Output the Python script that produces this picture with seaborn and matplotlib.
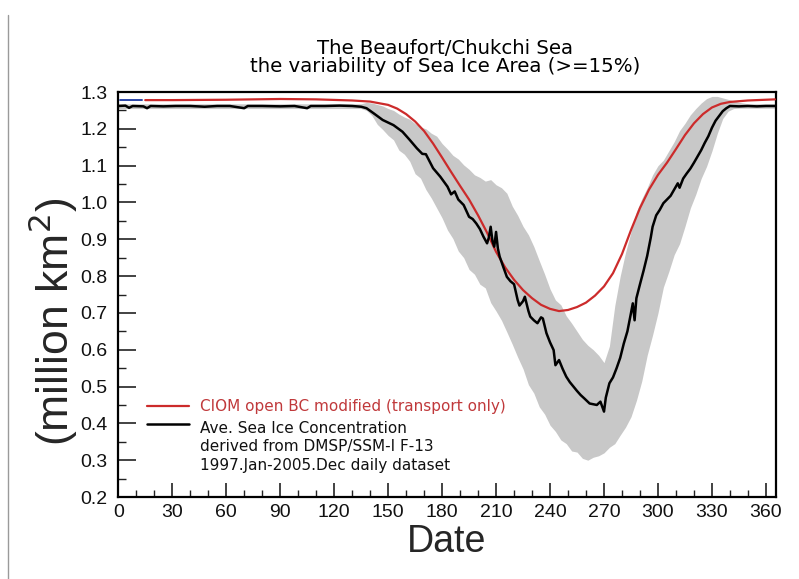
import matplotlib
matplotlib.use("Agg")
import matplotlib.pyplot as plt
from matplotlib.lines import Line2D
from matplotlib.ticker import MultipleLocator, FormatStrFormatter
import seaborn as sns

# ---- data -------------------------------------------------------------
# short initial segment of the model run
init_day = [1, 13]
init_area = [1.278, 1.278]

# CIOM model, open BC modified (transport only)
model_day = [15, 30, 60, 90, 110, 130, 140, 150, 155, 160, 165, 170, 175, 180,
             185, 190, 195, 200, 205, 210, 215, 220, 225, 230, 235, 240, 245,
             250, 255, 260, 265, 270, 275, 280, 285, 290, 295, 300, 305, 310,
             315, 320, 325, 330, 335, 340, 350, 365]
model_area = [1.278, 1.278, 1.279, 1.281, 1.280, 1.277, 1.274, 1.265, 1.255,
              1.240, 1.220, 1.194, 1.160, 1.122, 1.083, 1.045, 1.008, 0.965,
              0.918, 0.866, 0.824, 0.790, 0.762, 0.740, 0.722, 0.711, 0.705,
              0.708, 0.716, 0.728, 0.747, 0.772, 0.808, 0.860, 0.925, 0.985,
              1.035, 1.075, 1.108, 1.145, 1.183, 1.215, 1.240, 1.258, 1.268,
              1.273, 1.277, 1.280]

# averaged observed sea ice area (DMSP/SSM-I F-13, 1997-2005)
obs_day = [0, 4, 6, 8, 14, 16, 18, 25, 32, 40, 48, 55, 62, 70, 72, 80, 90, 98,
           105, 107, 115, 123, 130, 135, 138, 142, 147, 153, 158, 162, 166,
           169, 171, 175, 179, 183, 185, 187, 189, 192, 195, 197, 199, 201,
           203, 205, 206, 207, 208, 209, 210, 211, 212, 214, 216, 218, 220,
           222, 223, 225, 226, 228, 229, 231, 233, 235, 236, 238, 240, 242,
           243, 245, 247, 249, 251, 253, 255, 257, 259, 262, 264, 266, 268,
           270, 271, 273, 275, 277, 279, 281, 283, 285, 286, 287, 288, 290,
           292, 294, 296, 297, 299, 301, 303, 305, 307, 309, 311, 312, 314,
           316, 318, 320, 322, 324, 326, 328, 330, 332, 334, 336, 338, 340,
           345, 350, 355, 360, 365]
obs_area = [1.262, 1.263, 1.257, 1.262, 1.261, 1.256, 1.262, 1.261, 1.262,
            1.262, 1.260, 1.262, 1.262, 1.256, 1.262, 1.262, 1.261, 1.262,
            1.256, 1.262, 1.262, 1.263, 1.262, 1.260, 1.256, 1.242, 1.224,
            1.210, 1.192, 1.170, 1.147, 1.132, 1.131, 1.093, 1.070, 1.043,
            1.022, 1.030, 1.008, 0.993, 0.961, 0.955, 0.943, 0.928, 0.907,
            0.889, 0.905, 0.934, 0.895, 0.880, 0.920, 0.875, 0.853, 0.825,
            0.798, 0.786, 0.778, 0.735, 0.720, 0.732, 0.744, 0.705, 0.690,
            0.680, 0.672, 0.688, 0.685, 0.645, 0.620, 0.599, 0.558, 0.572,
            0.548, 0.527, 0.512, 0.500, 0.488, 0.477, 0.468, 0.454, 0.452,
            0.450, 0.459, 0.432, 0.470, 0.509, 0.525, 0.550, 0.578, 0.617,
            0.650, 0.700, 0.726, 0.680, 0.740, 0.778, 0.815, 0.855, 0.905,
            0.934, 0.965, 0.980, 0.998, 1.008, 1.018, 1.035, 1.052, 1.040,
            1.065, 1.079, 1.092, 1.108, 1.125, 1.142, 1.162, 1.180, 1.203,
            1.222, 1.235, 1.248, 1.256, 1.262, 1.261, 1.262, 1.261, 1.262,
            1.262]

# daily spread of the observations (min / max over the years)
band_day = [0, 135, 138, 141, 144, 147, 150, 153, 156, 159, 162, 165, 168,
            171, 174, 177, 180, 183, 186, 189, 192, 195, 198, 201, 204, 207,
            210, 213, 216, 219, 222, 225, 228, 231, 234, 237, 240, 243, 246,
            249, 252, 255, 258, 261, 264, 267, 270, 273, 276, 279, 282, 285,
            288, 291, 294, 297, 300, 303, 306, 309, 312, 315, 318, 321, 324,
            327, 330, 333, 336, 339, 342, 345, 350, 365]
band_low = [1.255, 1.255, 1.250, 1.236, 1.212, 1.198, 1.182, 1.170, 1.142,
            1.131, 1.112, 1.078, 1.066, 1.035, 1.012, 0.985, 0.958, 0.925,
            0.902, 0.868, 0.850, 0.818, 0.805, 0.778, 0.768, 0.728, 0.705,
            0.680, 0.648, 0.615, 0.580, 0.548, 0.505, 0.482, 0.445, 0.425,
            0.395, 0.378, 0.355, 0.345, 0.325, 0.322, 0.305, 0.300, 0.308,
            0.312, 0.320, 0.335, 0.345, 0.368, 0.390, 0.418, 0.462, 0.515,
            0.585, 0.640, 0.700, 0.770, 0.812, 0.858, 0.888, 0.935, 0.985,
            1.022, 1.065, 1.098, 1.140, 1.188, 1.228, 1.248, 1.255, 1.256,
            1.256, 1.256]
band_high = [1.268, 1.268, 1.272, 1.270, 1.266, 1.262, 1.255, 1.250, 1.240,
             1.232, 1.226, 1.214, 1.205, 1.200, 1.188, 1.180, 1.160, 1.145,
             1.128, 1.118, 1.102, 1.090, 1.075, 1.068, 1.058, 1.062, 1.048,
             1.040, 1.025, 0.990, 0.965, 0.935, 0.912, 0.880, 0.842, 0.805,
             0.765, 0.735, 0.722, 0.692, 0.672, 0.650, 0.628, 0.612, 0.600,
             0.585, 0.565, 0.610, 0.720, 0.800, 0.865, 0.920, 0.975, 1.010,
             1.040, 1.075, 1.100, 1.115, 1.140, 1.165, 1.195, 1.215, 1.238,
             1.255, 1.270, 1.282, 1.288, 1.288, 1.284, 1.280, 1.276, 1.272,
             1.268, 1.268]

x_ticks = [0, 30, 60, 90, 120, 150, 180, 210, 240, 270, 300, 330, 360]

title_lines = ["The Beaufort/Chukchi Sea",
               "the variability of Sea Ice Area (>=15%)"]
model_label = "CIOM open BC modified (transport only)"
obs_label = ["Ave. Sea Ice Concentration",
             "derived from DMSP/SSM-I F-13",
             "1997.Jan-2005.Dec daily dataset"]

# ---- style ------------------------------------------------------------
sns.set_style("white")
plt.rcParams["font.family"] = ["Liberation Sans", "DejaVu Sans"]

RED = "#cc2b2b"
RED_TEXT = "#c0393b"
BLACK = "#000000"
GREY = "#c8c8c8"
BLUE = "#2a45a8"

fig = plt.figure(figsize=(7.99, 5.79), dpi=100)
ax = fig.add_axes([0.148, 0.1416, 0.823, 0.6995])

# spread band
ax.fill_between(band_day, band_low, band_high,
                color=GREY, linewidth=0, zorder=1)

# lines
sns.lineplot(x=init_day, y=init_area, ax=ax, color=BLUE, linewidth=1.4,
             zorder=3)
sns.lineplot(x=model_day, y=model_area, ax=ax, color=RED, linewidth=1.6,
             zorder=3)
sns.lineplot(x=obs_day, y=obs_area, ax=ax, color=BLACK, linewidth=1.8,
             zorder=4)

# axes
ax.set_xlim(0, 365.5)
ax.set_ylim(0.2, 1.3)
ax.set_xticks(x_ticks)
ax.xaxis.set_minor_locator(MultipleLocator(10))
ax.yaxis.set_major_locator(MultipleLocator(0.1))
ax.yaxis.set_minor_locator(MultipleLocator(0.05))
ax.yaxis.set_major_formatter(FormatStrFormatter("%.1f"))

ax.tick_params(axis="both", which="both", direction="in", color="#222222",
               left=True, bottom=True, top=False, right=False)
ax.tick_params(axis="x", which="major", length=10, width=1.2, pad=5,
               labelsize=14, labelcolor="#111111")
ax.tick_params(axis="x", which="minor", length=5, width=1.0)
ax.tick_params(axis="y", which="major", length=13, width=1.2, pad=8,
               labelsize=14, labelcolor="#111111")
ax.tick_params(axis="y", which="minor", length=6, width=1.0)

for side in ax.spines.values():
    side.set_visible(True)
    side.set_color("black")
    side.set_linewidth(1.6)

ax.set_xlabel("Date", fontsize=27, labelpad=2)
ax.set_ylabel("(million km$^2$)", fontsize=32)
ax.yaxis.set_label_coords(-0.058, 0.432)

# titles
title_font = dict(family=["DejaVu Sans"], fontsize=14.2, ha="center",
                  va="center", color="black")
fig.text(0.557, 1 - 49 / 579, title_lines[0], **title_font)
fig.text(0.557, 1 - 67 / 579, title_lines[1], **title_font)

# in-plot legend
ax.add_line(Line2D([0.044, 0.107], [0.2247, 0.2247], transform=ax.transAxes,
                   color=RED, linewidth=1.6))
ax.add_line(Line2D([0.044, 0.107], [0.180, 0.180], transform=ax.transAxes,
                   color=BLACK, linewidth=1.8))
ax.text(0.125, 0.2247, model_label, transform=ax.transAxes, color=RED_TEXT,
        fontsize=11, family=["DejaVu Sans"], va="center", ha="left")
for frac, line in zip([0.170, 0.1247, 0.079], obs_label):
    ax.text(0.125, frac, line, transform=ax.transAxes, color="#111111",
            fontsize=11, family=["DejaVu Sans"], va="center", ha="left")

# page border on the left
fig.add_artist(Line2D([8 / 799, 8 / 799], [0, 1 - 15 / 579],
                      transform=fig.transFigure, color="#9a9a9a",
                      linewidth=1.0))

fig.savefig("out.png", dpi=100)
